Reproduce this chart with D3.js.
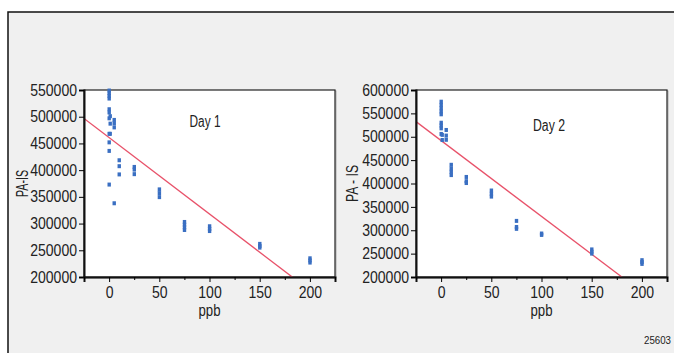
<!DOCTYPE html>
<html>
<head>
<meta charset="utf-8">
<script src="https://cdn.jsdelivr.net/npm/d3@7"></script>
<style>
  body { margin: 0; background: #fff; }
  svg text { font-family: "Liberation Sans", Arial, sans-serif; fill: #222; }
</style>
</head>
<body>
<div id="app"></div>
<script>
const WIDTH = 674;
const HEIGHT = 353;

// concentrations (ppb) and peak area ratios
const day1Ppb = [0, 0, 0, 0, 0, 0, 0, 0, 0, 0, 0, 1, 1, 1, 5, 5, 5, 5, 10, 10, 10, 25, 25, 25, 50, 50, 50, 75, 75, 75, 75, 100, 100, 100, 150, 150, 150, 200, 200, 200];
const day1Area = [549000, 544000, 539000, 534000, 514000, 508000, 497000, 468000, 452000, 436000, 373000, 501000, 487000, 468000, 494000, 487500, 480000, 338000, 418500, 407400, 392000, 406000, 401000, 392500, 364000, 357000, 349500, 303000, 298000, 293000, 288000, 295000, 290000, 286000, 262000, 258000, 255000, 235000, 231000, 227000];

const day2Ppb = [0, 0, 0, 0, 0, 0, 0, 0, 0, 1, 1, 5, 5, 5, 10, 10, 10, 10, 25, 25, 25, 50, 50, 50, 75, 75, 75, 100, 100, 150, 150, 150, 200, 200, 200];
const day2Area = [575000, 568000, 561000, 554000, 548000, 530000, 524000, 518000, 506000, 504000, 493000, 514500, 502500, 493500, 440000, 432000, 425000, 418000, 414000, 405000, 401000, 385000, 378000, 372000, 320000, 307000, 303000, 293000, 290000, 259000, 254000, 250000, 236000, 232000, 228000];

// fitted lines (intercept, slope) as drawn in the picture
const day1Fit = [461000, -1431];
const day2Fit = [491800, -1621];

const xTicks = [0, 50, 100, 150, 200];
const xMinorTicks = [-25, 25, 75, 125, 175, 225];
const day1YTicks = [200000, 250000, 300000, 350000, 400000, 450000, 500000, 550000];
const day2YTicks = [200000, 250000, 300000, 350000, 400000, 450000, 500000, 550000, 600000];

const panels = [
  { left: 84, label: "Day 1", yTitle: "PA-IS", ppb: day1Ppb, area: day1Area, fit: day1Fit,
    yDomain: [200000, 550000], yTicks: day1YTicks, labelAt: [205, 121], labelW: 31, titleX: 22, titleW: 27 },
  { left: 416, label: "Day 2", yTitle: "PA - IS", ppb: day2Ppb, area: day2Area, fit: day2Fit,
    yDomain: [200000, 600000], yTicks: day2YTicks, labelAt: [549, 125], labelW: 32, titleX: 352, titleW: 37 },
];

const DIGIT_W = 7.8; // condensed face: squeeze each label to the width seen

const svg = d3.select("#app")
  .append("svg")
  .attr("width", WIDTH)
  .attr("height", HEIGHT);

// squeeze text to a target width, like the narrow face in the picture
function squeeze(sel, widthFn) {
  sel.each(function (d, i) {
    const w = typeof widthFn === "function" ? widthFn(this.textContent, i) : widthFn;
    d3.select(this).attr("textLength", w).attr("lengthAdjust", "spacingAndGlyphs");
  });
}

// outer frame
svg.append("rect")
  .attr("x", 8).attr("y", 12)
  .attr("width", WIDTH + 10).attr("height", HEIGHT)
  .attr("fill", "#f0f0f0")
  .attr("stroke", "#111")
  .attr("stroke-width", 1.5);

const TOP = 90;
const BOTTOM = 277;
const PLOT_W = 251;

panels.forEach(drawPanel);

function drawPanel(p) {
  const x = d3.scaleLinear().domain([-25, 225]).range([p.left, p.left + PLOT_W]);
  const y = d3.scaleLinear().domain(p.yDomain).range([BOTTOM, TOP]);

  const g = svg.append("g");

  // plot area with a soft shadow edge
  g.append("rect")
    .attr("x", p.left + 1).attr("y", TOP + 1)
    .attr("width", PLOT_W).attr("height", BOTTOM - TOP)
    .attr("fill", "none").attr("stroke", "#aaa").attr("stroke-width", 1);
  g.append("rect")
    .attr("x", p.left).attr("y", TOP)
    .attr("width", PLOT_W).attr("height", BOTTOM - TOP)
    .attr("fill", "#fff").attr("stroke", "#222").attr("stroke-width", 1.2);

  // fitted line, clipped to the plot area
  const clipId = "clip-" + p.left;
  svg.append("clipPath").attr("id", clipId)
    .append("rect")
    .attr("x", p.left).attr("y", TOP)
    .attr("width", PLOT_W).attr("height", BOTTOM - TOP);

  g.append("path")
    .datum(x.domain())
    .attr("clip-path", `url(#${clipId})`)
    .attr("fill", "none")
    .attr("stroke", "#e8526a")
    .attr("stroke-width", 1.3)
    .attr("d", d3.line().x((d) => x(d)).y((d) => y(p.fit[0] + p.fit[1] * d)));

  // data marks
  g.append("g")
    .selectAll("rect")
    .data(p.ppb.map((v, i) => [v, p.area[i]]))
    .join("rect")
    .attr("x", (d) => x(d[0]) - 1.6)
    .attr("y", (d) => y(d[1]) - 2)
    .attr("width", 3.4)
    .attr("height", 4)
    .attr("fill", "#3a6fc2");

  // axes
  const yAxis = g.append("g")
    .attr("transform", `translate(${p.left},0)`)
    .call(d3.axisLeft(y).tickValues(p.yTicks).tickSize(5).tickPadding(2).tickFormat(d3.format("d")));
  yAxis.select(".domain").attr("stroke", "#111").attr("stroke-width", 2);
  yAxis.selectAll("text").style("font-size", "16px").style("font-family", null);
  squeeze(yAxis.selectAll("text"), (t) => t.length * DIGIT_W);

  const xAxis = g.append("g")
    .attr("transform", `translate(0,${BOTTOM})`)
    .call(d3.axisBottom(x).tickValues(xTicks).tickSize(5).tickPadding(5).tickFormat(d3.format("d")));
  xAxis.select(".domain").attr("stroke", "#111").attr("stroke-width", 2);
  xAxis.selectAll("text").style("font-size", "16px");
  squeeze(xAxis.selectAll("text"), (t) => t.length * DIGIT_W);

  g.append("g")
    .attr("transform", `translate(0,${BOTTOM})`)
    .call(d3.axisBottom(x).tickValues(xMinorTicks).tickSize(3).tickFormat(""))
    .select(".domain").remove();

  // titles
  g.append("text")
    .attr("x", x(100)).attr("y", 316)
    .attr("text-anchor", "middle")
    .style("font-size", "16px")
    .text("ppb")
    .call(squeeze, 22);

  g.append("text")
    .attr("transform", `translate(${p.titleX},${(TOP + BOTTOM) / 2}) rotate(-90)`)
    .attr("text-anchor", "middle")
    .attr("dy", "0.35em")
    .style("font-size", "16px")
    .text(p.yTitle)
    .call(squeeze, p.titleW);

  g.append("text")
    .attr("x", p.labelAt[0]).attr("y", p.labelAt[1])
    .attr("text-anchor", "middle")
    .attr("dy", "0.35em")
    .style("font-size", "16px")
    .text(p.label)
    .call(squeeze, p.labelW);
}

svg.append("text")
  .attr("x", 671).attr("y", 344)
  .attr("text-anchor", "end")
  .style("font-size", "11px")
  .text("25603")
  .call(squeeze, 27);
</script>
</body>
</html>
